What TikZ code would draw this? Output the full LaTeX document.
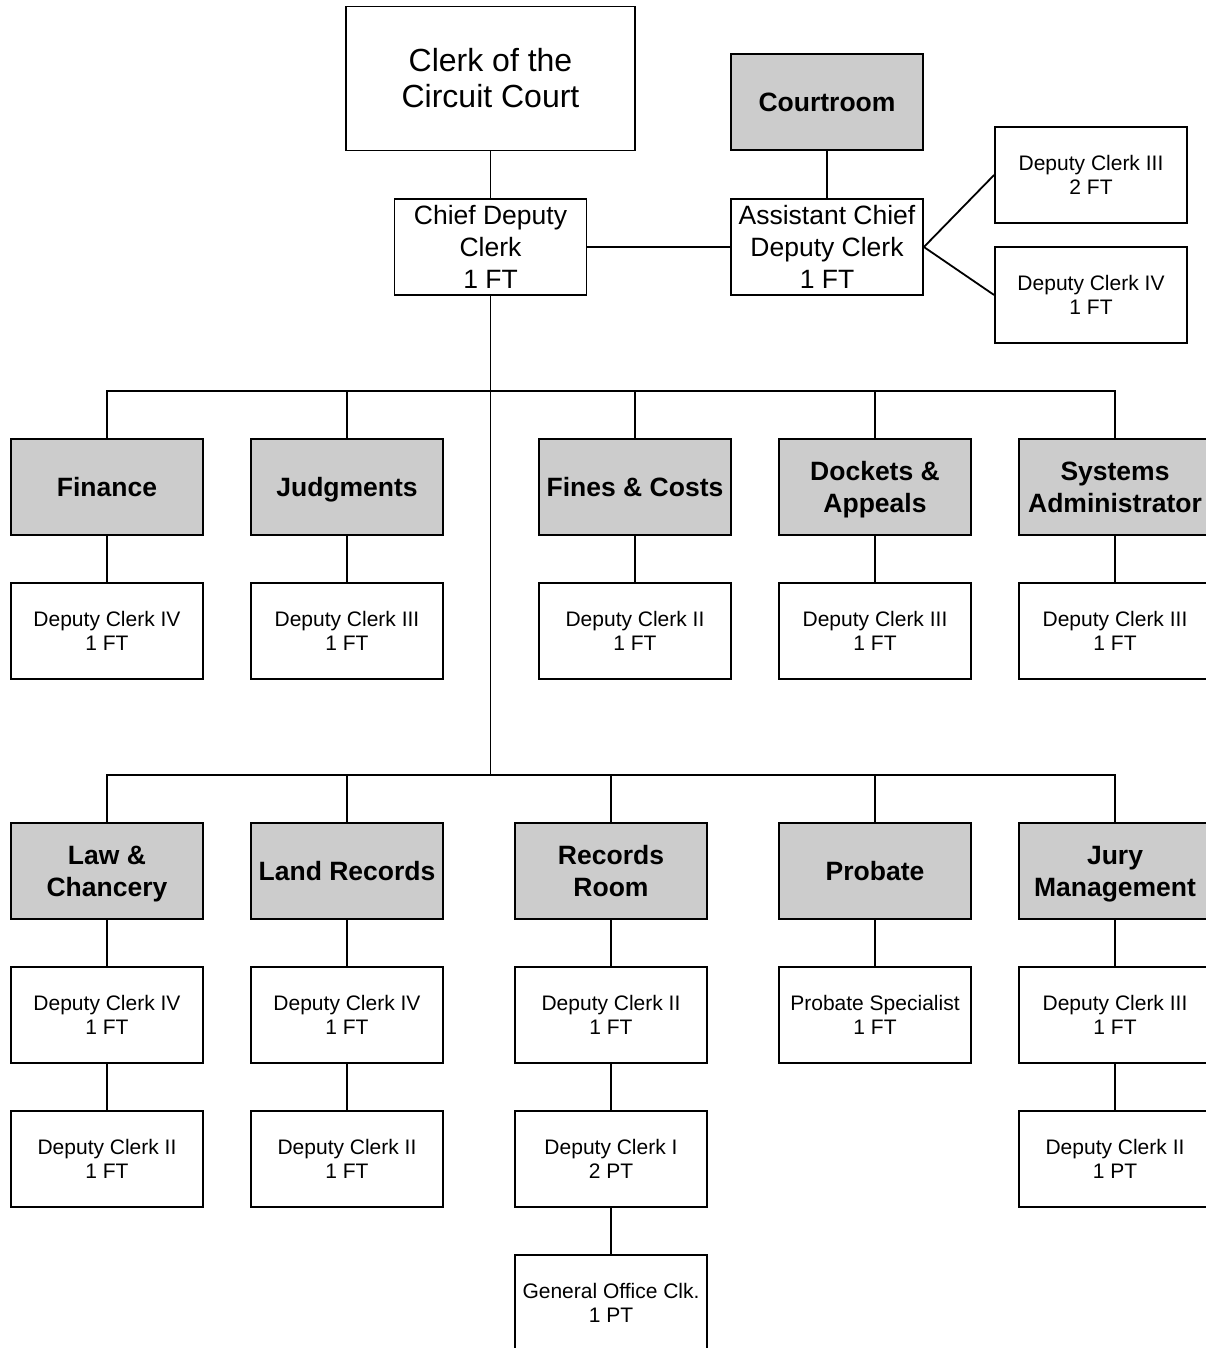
\documentclass[tikz,border=0pt]{standalone}
\usepackage{fontspec}
\setmainfont{Liberation Sans}
\definecolor{boxgray}{RGB}{204,204,204}
\newcommand\nodp[1]{\raisebox{0pt}[\height][0pt]{#1}}
\tikzset{
  box/.style={draw=black, line width=1.8pt, fill=white, minimum width=192pt, minimum height=96pt, inner sep=0pt, align=center, font=\fontsize{21}{24.5}\selectfont},
  deptbox/.style={box, fill=boxgray, font=\fontsize{26.5}{32}\selectfont\bfseries},
  headbox/.style={box, font=\fontsize{26.5}{32}\selectfont},
  topbox/.style={box, minimum width=289pt, minimum height=144pt, font=\fontsize{32}{36}\selectfont},
  link/.style={draw=black, line width=1.8pt}
}
\begin{document}
\begin{tikzpicture}[x=1pt, y=-1pt]
\path[use as bounding box, clip] (0,0) rectangle (1206,1348);
\fill[white] (0,0) rectangle (1206,1348);

% top
\node[topbox] (clerk) at (490.5,78.5) {Clerk of the\\Circuit Court};
\node[deptbox] (court) at (827,102) {Courtroom};
\node[headbox] (chief) at (490.5,247) {Chief Deputy\\Clerk\\1 FT};
\node[headbox] (asst) at (827,247) {Assistant Chief\\Deputy Clerk\\1 FT};
\node[box] (acthree) at (1091,175) {Deputy Clerk III\\2 FT};
\node[box] (acfour) at (1091,295) {Deputy Clerk IV\\1 FT};

% row 1
\node[deptbox] (fin) at (107,487) {Finance};
\node[deptbox] (jud) at (347,487) {\nodp{Judgments}};
\node[deptbox] (fines) at (635,487) {Fines \& Costs};
\node[deptbox] (dock) at (875,487) {Dockets \&\\\nodp{Appeals}};
\node[deptbox] (sys) at (1115,487) {Systems\\Administrator};
\node[box] (finA) at (107,631) {Deputy Clerk IV\\1 FT};
\node[box] (judA) at (347,631) {Deputy Clerk III\\1 FT};
\node[box] (finesA) at (635,631) {Deputy Clerk II\\1 FT};
\node[box] (dockA) at (875,631) {Deputy Clerk III\\1 FT};
\node[box] (sysA) at (1115,631) {Deputy Clerk III\\1 FT};

% row 2
\node[deptbox] (law) at (107,871) {Law \&\\\nodp{Chancery}};
\node[deptbox] (land) at (347,871) {Land Records};
\node[deptbox] (rec) at (611,871) {Records\\Room};
\node[deptbox] (prob) at (875,871) {\nodp{Probate}};
\node[deptbox] (jury) at (1115,871) {Jury\\\nodp{Management}};
\node[box] (lawA) at (107,1015) {Deputy Clerk IV\\1 FT};
\node[box] (lawB) at (107,1159) {Deputy Clerk II\\1 FT};
\node[box] (landA) at (347,1015) {Deputy Clerk IV\\1 FT};
\node[box] (landB) at (347,1159) {Deputy Clerk II\\1 FT};
\node[box] (recA) at (611,1015) {Deputy Clerk II\\1 FT};
\node[box] (recB) at (611,1159) {Deputy Clerk I\\2 PT};
\node[box] (recC) at (611,1303) {General Office Clk.\\1 PT};
\node[box] (probA) at (875,1015) {Probate Specialist\\1 FT};
\node[box] (juryA) at (1115,1015) {Deputy Clerk III\\1 FT};
\node[box] (juryB) at (1115,1159) {Deputy Clerk II\\1 PT};

\coordinate (busone) at (490.5,391);
\coordinate (bustwo) at (490.5,775);

% connectors
\path[link] (clerk.south) -- (chief.north);
\path[link] (chief.east) -- (asst.west);
\path[link] (court.south) -- (asst.north);
\path[link] (asst.east) -- (acthree.west);
\path[link] (asst.east) -- (acfour.west);
\path[link] (chief.south) -- (bustwo);
\path[link] (fin.north) |- (busone) -| (sys.north);
\path[link] (jud.north) -- (jud.north |- busone);
\path[link] (fines.north) -- (fines.north |- busone);
\path[link] (dock.north) -- (dock.north |- busone);
\path[link] (law.north) |- (bustwo) -| (jury.north);
\path[link] (land.north) -- (land.north |- bustwo);
\path[link] (rec.north) -- (rec.north |- bustwo);
\path[link] (prob.north) -- (prob.north |- bustwo);
\path[link] (fin) -- (finA);
\path[link] (jud) -- (judA);
\path[link] (fines) -- (finesA);
\path[link] (dock) -- (dockA);
\path[link] (sys) -- (sysA);
\path[link] (law) -- (lawA);
\path[link] (lawA) -- (lawB);
\path[link] (land) -- (landA);
\path[link] (landA) -- (landB);
\path[link] (rec) -- (recA);
\path[link] (recA) -- (recB);
\path[link] (recB) -- (recC);
\path[link] (prob) -- (probA);
\path[link] (jury) -- (juryA);
\path[link] (juryA) -- (juryB);
\end{tikzpicture}
\end{document}
